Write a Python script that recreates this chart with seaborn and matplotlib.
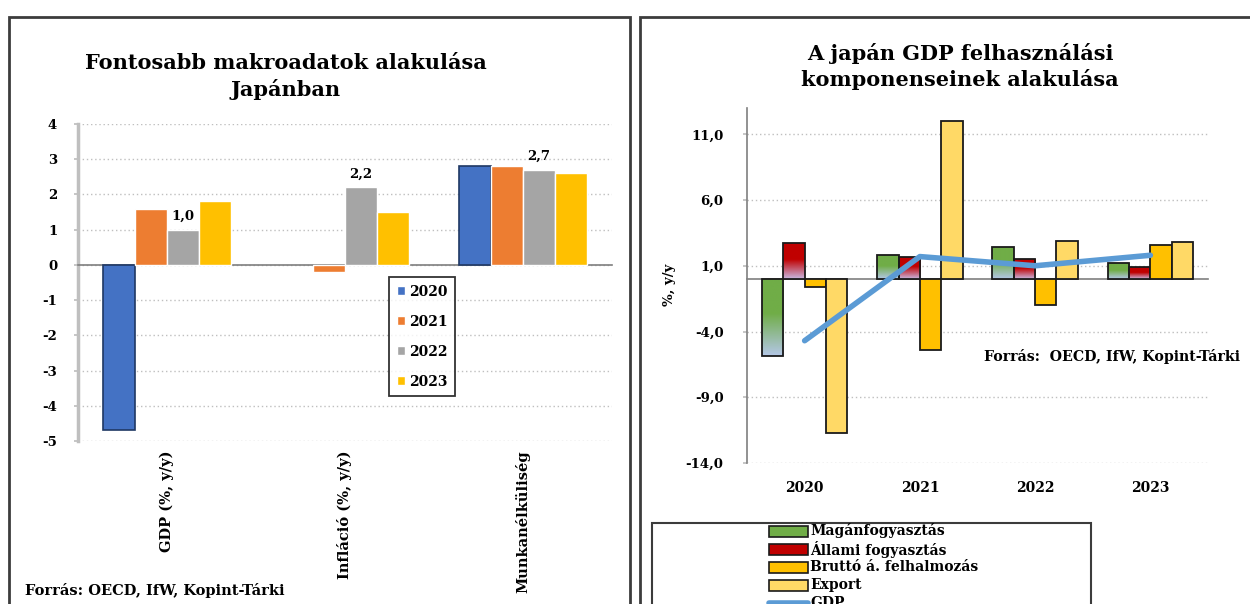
"""
Japán makroadatok – két panel: fő mutatók és a GDP felhasználási komponensei.
"""

import matplotlib
matplotlib.use("Agg")
import matplotlib.pyplot as plt
import numpy as np
import pandas as pd
import seaborn as sns
from matplotlib.colors import LinearSegmentedColormap
from matplotlib.lines import Line2D
from matplotlib.patches import Rectangle

# ── Data ─────────────────────────────────────────────────────────────

years = ["2020", "2021", "2022", "2023"]

macro_cats = ["GDP (%, y/y)", "Infláció (%, y/y)", "Munkanélküliség"]
macro_2020 = [-4.7, 0.0, 2.8]
macro_2021 = [1.6, -0.2, 2.8]
macro_2022 = [1.0, 2.2, 2.7]
macro_2023 = [1.8, 1.5, 2.6]

comp_names = ["Magánfogyasztás", "Állami fogyasztás", "Bruttó á. felhalmozás", "Export"]
maganfogyasztas = [-5.9, 1.8, 2.4, 1.2]
allami_fogyasztas = [2.7, 1.7, 1.5, 0.9]
brutto_felhalmozas = [-0.6, -5.4, -2.0, 2.6]
export = [-11.7, 12.0, 2.9, 2.8]
gdp = [-4.7, 1.7, 1.0, 1.8]

comp_ticks = [-14, -9, -4, 1, 6, 11]

# ── Theme ────────────────────────────────────────────────────────────

sns.set_theme(style="white")
plt.rcParams.update({
    "font.family": ["DejaVu Serif"],
    "font.weight": "bold",
    "axes.unicode_minus": False,
    "text.color": "black",
    "xtick.color": "black",
    "ytick.color": "black",
})

YEAR_COLORS = ["#4472C4", "#ED7D31", "#A5A5A5", "#FFC000"]
COMP_COLORS = ["#70AD47", "#C00000", "#FFC000", "#FFD966"]
COMP_LIGHT = ["#B4C7E7", "#C9B8E2"]
GDP_COLOR = "#5B9BD5"
GRID = dict(linestyle=(0, (1, 2)), color="#BFBFBF", linewidth=1)

W, H = 1250, 604


def fx(px):
    return px / W


def fy(py):
    return 1 - py / H


def hu(v):
    return f"{v:.1f}".replace(".", ",")


fig = plt.figure(figsize=(W / 100, H / 100), dpi=100)

# panel frames
for x0, x1 in [(9, 630), (640, 1252)]:
    fig.add_artist(Rectangle(
        (fx(x0), -0.1), fx(x1) - fx(x0), fy(17) + 0.1,
        transform=fig.transFigure, fill=False, edgecolor="#3c3c3c", lw=2,
    ))

# ── Left: macro indicators ───────────────────────────────────────────

ax1 = fig.add_axes([fx(78), fy(441), fx(612) - fx(78), fy(124) - fy(441)])
df_macro = pd.DataFrame({
    "Mutató": macro_cats * len(years),
    "Év": np.repeat(years, len(macro_cats)),
    "Érték": macro_2020 + macro_2021 + macro_2022 + macro_2023,
})
sns.barplot(
    data=df_macro, x="Mutató", y="Érték", hue="Év", palette=YEAR_COLORS,
    width=0.72, saturation=1, errorbar=None, ax=ax1, zorder=3,
)
for bar in ax1.containers[0]:
    bar.set_edgecolor("#1F3864")
    bar.set_linewidth(1.2 if bar.get_height() != 0 else 0)
ax1.bar_label(ax1.containers[2], labels=[hu(v) for v in macro_2022],
              padding=5, fontsize=9.5)

ax1.set_ylim(-5, 4)
ax1.set_yticks(range(-5, 5))
ax1.set_xlim(-0.5, len(macro_cats) - 0.5)
ax1.yaxis.grid(True, **GRID)
ax1.set_axisbelow(True)
ax1.set_xlabel("")
ax1.set_ylabel("")
for s in ["top", "right"]:
    ax1.spines[s].set_visible(False)
ax1.spines["left"].set_color("#BFBFBF")
ax1.spines["left"].set_linewidth(2.5)
ax1.spines["bottom"].set_position(("data", 0))
ax1.spines["bottom"].set_color("#7f7f7f")
ax1.spines["bottom"].set_linewidth(1.2)
ax1.set_xticks([])
ax1.set_xticks(np.arange(0.5, len(macro_cats), 1), minor=True)
ax1.tick_params(axis="x", which="minor", length=4, color="#7f7f7f", direction="out")
ax1.tick_params(axis="y", length=3, color="#BFBFBF", labelsize=9.5, pad=12, left=True)

sec1 = ax1.secondary_xaxis("bottom")
sec1.set_xticks(range(len(macro_cats)), labels=macro_cats, rotation=90, fontsize=10.5)
sec1.tick_params(length=0, pad=7)
sec1.spines["bottom"].set_visible(False)

handles, labels = ax1.get_legend_handles_labels()
leg1 = ax1.legend(
    handles, labels, loc="upper left",
    bbox_to_anchor=(fx(389), fy(277)), bbox_transform=fig.transFigure,
    frameon=True, fancybox=False, edgecolor="black", fontsize=10,
    handlelength=0.6, handleheight=0.6, labelspacing=1.15,
    borderpad=0.55, handletextpad=0.3, borderaxespad=0,
)
leg1.get_frame().set_linewidth(1.3)

fig.text(fx(286), fy(76.5), "Fontosabb makroadatok alakulása\nJapánban",
         ha="center", va="center", fontsize=15, linespacing=1.3)
fig.text(fx(25), fy(591), "Forrás: OECD, IfW, Kopint-Tárki",
         ha="left", va="center", fontsize=10.5)

# ── Right: GDP components ────────────────────────────────────────────

ax2 = fig.add_axes([fx(747), fy(463), fx(1208) - fx(747), fy(108) - fy(463)])
df_comp = pd.DataFrame({
    "Komponens": np.repeat(comp_names, len(years)),
    "Év": years * len(comp_names),
    "Érték": maganfogyasztas + allami_fogyasztas + brutto_felhalmozas + export,
})
sns.barplot(
    data=df_comp, x="Év", y="Érték", hue="Komponens", palette=COMP_COLORS,
    width=0.74, saturation=1, errorbar=None, edgecolor="#1a1a1a",
    linewidth=1.3, ax=ax2, legend=False, zorder=3,
)

# Excel-style vertical gradient on the first two series
grad = np.linspace(0, 1, 128).reshape(-1, 1)
for cont, dark, light in zip(ax2.containers[:2], COMP_COLORS[:2], COMP_LIGHT):
    cmap = LinearSegmentedColormap.from_list(
        "g", [(0, light), (0.55, dark), (1, dark)])
    for bar in cont:
        x0, y0 = bar.get_x(), bar.get_y()
        w, h = bar.get_width(), bar.get_height()
        lo, hi = min(y0, y0 + h), max(y0, y0 + h)
        im = ax2.imshow(grad, cmap=cmap, origin="lower", aspect="auto",
                        extent=[x0, x0 + w, lo, hi], zorder=2.9)
        im.set_clip_path(bar)
        bar.set_facecolor("none")

sns.lineplot(x=np.arange(len(years)), y=gdp, color=GDP_COLOR, lw=4,
             ax=ax2, zorder=5)

ax2.set_xlim(-0.5, len(years) - 0.5)
ax2.set_ylim(-14, 13)
ax2.set_yticks(comp_ticks, labels=[hu(v) for v in comp_ticks])
ax2.yaxis.grid(True, **GRID)
ax2.set_axisbelow(True)
ax2.set_xlabel("")
ax2.set_ylabel("")
for s in ["top", "right"]:
    ax2.spines[s].set_visible(False)
ax2.spines["left"].set_color("#7f7f7f")
ax2.spines["left"].set_linewidth(1.2)
ax2.spines["bottom"].set_position(("data", 0))
ax2.spines["bottom"].set_color("#7f7f7f")
ax2.spines["bottom"].set_linewidth(1.2)
ax2.set_xticks([])
ax2.set_xticks(np.arange(0.5, len(years), 1), minor=True)
ax2.tick_params(axis="x", which="minor", length=4, color="#7f7f7f", direction="out")
ax2.tick_params(axis="y", length=3, color="#BFBFBF", labelsize=9.5, pad=14, left=True)

sec2 = ax2.secondary_xaxis("bottom")
sec2.set_xticks(range(len(years)), labels=years, fontsize=10)
sec2.tick_params(length=0, pad=13)
sec2.spines["bottom"].set_visible(False)

fig.text(fx(960), fy(66.5), "A japán GDP felhasználási\nkomponenseinek alakulása",
         ha="center", va="center", fontsize=15, linespacing=1.3)
fig.text(fx(669), fy(285), "%, y/y", rotation=90, ha="center", va="center",
         fontsize=9.5)
fig.text(fx(984), fy(357), "Forrás:  OECD, IfW, Kopint-Tárki",
         ha="left", va="center", fontsize=10.2)

# legend box (Excel-style: wide box, evenly spaced rows, cut off at the bottom)
fig.add_artist(Rectangle(
    (fx(652), -0.1), fx(1091) - fx(652), fy(523) + 0.1,
    transform=fig.transFigure, fill=False, edgecolor="#3c3c3c", lw=1.5,
))
row_y = [531 + 18 * i for i in range(len(comp_names) + 1)]
for name, color, yy in zip(comp_names, COMP_COLORS, row_y):
    fig.add_artist(Rectangle(
        (fx(769), fy(yy + 5.5)), fx(808) - fx(769), fy(yy - 5.5) - fy(yy + 5.5),
        transform=fig.transFigure, facecolor=color, edgecolor="#1a1a1a", lw=1.2,
    ))
    fig.text(fx(810), fy(yy), name, ha="left", va="center", fontsize=10)
fig.add_artist(Line2D([fx(769), fx(808)], [fy(row_y[-1])] * 2,
                      transform=fig.transFigure, color=GDP_COLOR, lw=4))
fig.text(fx(810), fy(row_y[-1]), "GDP", ha="left", va="center", fontsize=10)

fig.savefig("out.png", dpi=100)
